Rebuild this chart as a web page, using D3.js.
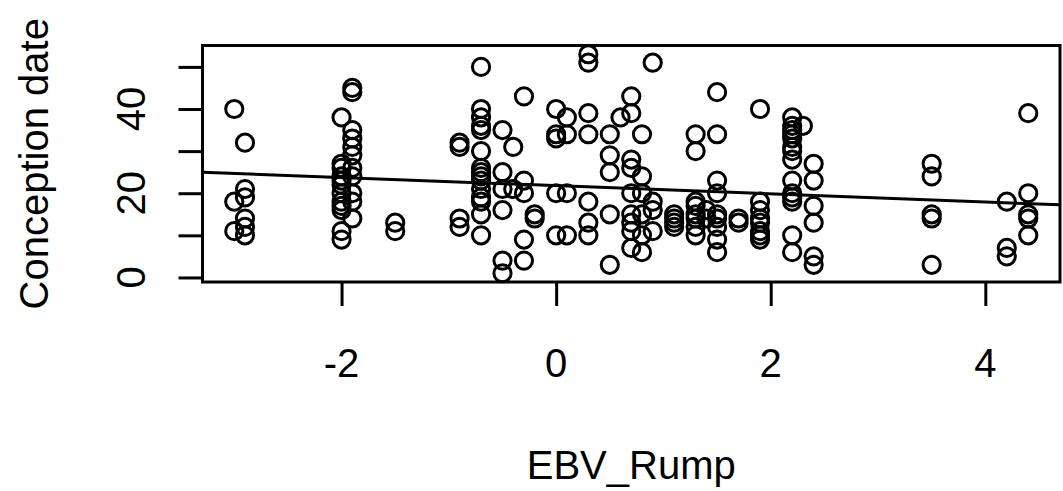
<!DOCTYPE html>
<html>
<head>
<meta charset="utf-8">
<script src="https://cdn.jsdelivr.net/npm/d3@7"></script>
<style>
  body { margin: 0; background: #fff; }
  text { font-family: "Liberation Sans", Arial, sans-serif; fill: #000; }
</style>
</head>
<body>
<div id="chart"></div>
<script>
/* CONSTANTS AND GLOBALS */
const width = 1063,
  height = 491,
  box = { left: 202.5, right: 1060, top: 45.5, bottom: 282 },
  radius = 8.6,
  lineWidth = 3,
  fontSize = 40;

// EBV_Rump levels and the conception dates recorded at each level
const ebvLevels = [-3.0, -2.9, -2.0, -1.9, -1.5, -0.9, -0.7, -0.5, -0.4, -0.3, -0.2,
  0.0, 0.1, 0.3, 0.5, 0.6, 0.7, 0.8, 0.9, 1.1, 1.3, 1.4, 1.5, 1.7, 1.9,
  2.2, 2.3, 2.4, 3.5, 4.2, 4.4];

const datesByLevel = [
  [40, 18, 11],
  [32, 21, 19, 14, 12, 10],
  [38, 27, 26, 24, 23, 22, 20, 18, 17, 16, 11, 9],
  [45, 44, 35, 33, 31, 29, 26, 24, 20, 18, 14],
  [13, 11],
  [32, 31, 14, 12],
  [50, 40, 38, 36, 35, 30, 26, 25, 24, 23, 21, 19, 18, 15, 10],
  [35, 25, 21, 16, 4, 1],
  [31, 21],
  [43, 23, 20, 9, 4],
  [15, 14],
  [40, 34, 33, 20, 10],
  [38, 34, 20, 10],
  [53, 51, 39, 34, 18, 13, 10],
  [34, 29, 25, 15, 3],
  [38],
  [43, 39, 28, 26, 20, 15, 13, 11, 7],
  [34, 24, 20, 15, 10, 6],
  [51, 18, 16, 11],
  [15, 14, 13, 12],
  [34, 30, 18, 17, 15, 14, 12, 10],
  [16, 14],
  [44, 34, 23, 20, 15, 14, 12, 9, 6],
  [14, 13],
  [40, 18, 16, 14, 13, 11, 10, 9],
  [38, 36, 35, 34, 33, 31, 30, 28, 23, 20, 19, 18, 10, 6],
  [36],
  [27, 23, 17, 13, 5, 3],
  [27, 24, 15, 14, 3],
  [18, 7, 5],
  [39, 20, 15, 14, 10]
];

// fitted line (lm)
const fitIntercept = 21.8;
const fitSlope = -0.97;

const xTicks = [-2, 0, 2, 4];
const yTicks = [0, 10, 20, 30, 40, 50];
const yTickLabels = [0, 20, 40];

const xTitle = "EBV_Rump";
const yTitle = "Conception date";

/* DATA */
const points = [];
ebvLevels.forEach((ebv, i) => {
  datesByLevel[i].forEach(date => points.push({ ebv: ebv, date: date }));
});

// R style 4% padding of the data range
function padded(values) {
  const [lo, hi] = d3.extent(values);
  const pad = (hi - lo) * 0.04;
  return [lo - pad, hi + pad];
}

const xScale = d3.scaleLinear()
  .domain(padded(points.map(d => d.ebv)))
  .range([box.left, box.right]);

const yScale = d3.scaleLinear()
  .domain(padded(points.map(d => d.date)))
  .range([box.bottom, box.top]);

/* DRAW */
const svg = d3.select("#chart")
  .append("svg")
  .attr("width", width)
  .attr("height", height);

svg.append("rect")
  .attr("width", width)
  .attr("height", height)
  .attr("fill", "#fff");

svg.append("defs")
  .append("clipPath")
  .attr("id", "plot-clip")
  .append("rect")
  .attr("x", box.left)
  .attr("y", box.top)
  .attr("width", box.right - box.left)
  .attr("height", box.bottom - box.top);

// points
svg.append("g")
  .selectAll("circle")
  .data(points)
  .join("circle")
  .attr("cx", d => xScale(d.ebv))
  .attr("cy", d => yScale(d.date))
  .attr("r", radius)
  .attr("fill", "none")
  .attr("stroke", "#000")
  .attr("stroke-width", lineWidth);

// regression line across the whole plot region
const [x0, x1] = xScale.domain();
svg.append("line")
  .attr("clip-path", "url(#plot-clip)")
  .attr("x1", xScale(x0))
  .attr("y1", yScale(fitIntercept + fitSlope * x0))
  .attr("x2", xScale(x1))
  .attr("y2", yScale(fitIntercept + fitSlope * x1))
  .attr("stroke", "#000")
  .attr("stroke-width", lineWidth);

// plot box
svg.append("rect")
  .attr("x", box.left)
  .attr("y", box.top)
  .attr("width", box.right - box.left)
  .attr("height", box.bottom - box.top)
  .attr("fill", "none")
  .attr("stroke", "#000")
  .attr("stroke-width", lineWidth);

// x axis
const xAxis = d3.axisBottom(xScale)
  .tickValues(xTicks)
  .tickSize(24)
  .tickPadding(0)
  .tickFormat("");

const gx = svg.append("g")
  .attr("transform", `translate(0, ${box.bottom})`)
  .call(xAxis);
gx.select(".domain").remove();
gx.selectAll(".tick line").attr("stroke-width", lineWidth);

svg.append("g")
  .selectAll("text")
  .data(xTicks)
  .join("text")
  .attr("x", d => xScale(d))
  .attr("y", 377)
  .attr("text-anchor", "middle")
  .attr("font-size", fontSize)
  .text(d => d);

// y axis
const yAxis = d3.axisLeft(yScale)
  .tickValues(yTicks)
  .tickSize(24)
  .tickPadding(0)
  .tickFormat("");

const gy = svg.append("g")
  .attr("transform", `translate(${box.left}, 0)`)
  .call(yAxis);
gy.select(".domain").remove();
gy.selectAll(".tick line").attr("stroke-width", lineWidth);

svg.append("g")
  .selectAll("text")
  .data(yTickLabels)
  .join("text")
  .attr("transform", d => `translate(145, ${yScale(d)}) rotate(-90)`)
  .attr("text-anchor", "middle")
  .attr("font-size", fontSize)
  .text(d => d);

// axis titles
svg.append("text")
  .attr("x", (box.left + box.right) / 2)
  .attr("y", 479)
  .attr("text-anchor", "middle")
  .attr("font-size", fontSize)
  .text(xTitle);

svg.append("text")
  .attr("transform", `translate(48, ${(box.top + box.bottom) / 2}) rotate(-90)`)
  .attr("text-anchor", "middle")
  .attr("font-size", fontSize)
  .text(yTitle);
</script>
</body>
</html>
